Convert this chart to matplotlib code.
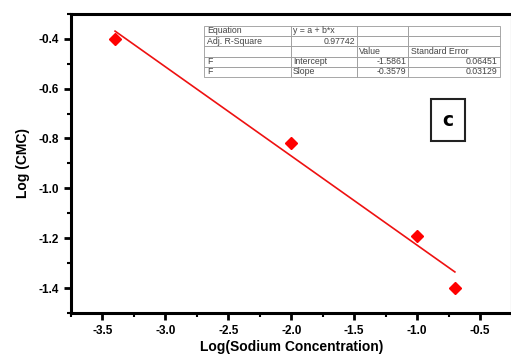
import matplotlib
matplotlib.use('Agg')
import matplotlib.pyplot as plt
import numpy as np
from matplotlib.ticker import MultipleLocator

plt.rcParams['font.family'] = ['Liberation Sans', 'DejaVu Sans']
plt.rcParams['axes.unicode_minus'] = False

# data
log_na = [-3.4, -2.0, -1.0, -0.7]
log_cmc = [-0.40, -0.82, -1.19, -1.40]

# fit results shown in the table
intercept = -1.5861
slope = -0.3579
table_rows = [
    ['Equation', 'y = a + b*x', '', ''],
    ['Adj. R-Square', '0.97742', '', ''],
    ['', '', 'Value', 'Standard Error'],
    ['F', 'Intercept', '-1.5861', '0.06451'],
    ['F', 'Slope', '-0.3579', '0.03129'],
]

fig = plt.figure(figsize=(5.11, 3.56), dpi=100)
ax = fig.add_axes([0.139, 0.121, 0.862, 0.840])

ax.plot(log_na, log_cmc, 'D', color='#ff0000', markersize=6.5, zorder=3)
xfit = np.array([min(log_na), max(log_na)])
ax.plot(xfit, intercept + slope * xfit, color='#ee1111', lw=1.2, zorder=2)

ax.set_xlim(-3.75, -0.25)
ax.set_ylim(-1.5, -0.3)
ax.xaxis.set_major_locator(MultipleLocator(0.5))
ax.xaxis.set_minor_locator(MultipleLocator(0.25))
ax.yaxis.set_major_locator(MultipleLocator(0.2))
ax.yaxis.set_minor_locator(MultipleLocator(0.1))
ax.tick_params(which='major', direction='out', length=5, width=2, labelsize=8.5)
ax.tick_params(which='minor', direction='out', length=3, width=1.5)
for lab in ax.get_xticklabels() + ax.get_yticklabels():
    lab.set_fontweight('bold')
for s in ax.spines.values():
    s.set_linewidth(2.2)

ax.set_xlabel('Log(Sodium Concentration)', fontsize=10, fontweight='bold', labelpad=2)
ax.set_ylabel('Log (CMC)', fontsize=10, fontweight='bold', labelpad=6)

tab = ax.table(cellText=table_rows, cellLoc='left',
               colWidths=[86, 66, 51, 92],
               bbox=[0.303, 0.789, 0.672, 0.171])
tab.auto_set_font_size(False)
tab.set_fontsize(6.3)
for (r, c), cell in tab.get_celld().items():
    cell.set_edgecolor('#999999')
    cell.set_linewidth(0.6)
    cell.PAD = 0.03
    cell.get_text().set_color('#444444')
    if (r == 1 and c == 1) or (r >= 3 and c >= 2):
        cell.get_text().set_ha('right')
        cell._loc = 'right'

ax.text(0.856, 0.645, 'c', transform=ax.transAxes, ha='center', va='center',
        fontsize=13.5, fontweight='heavy', family=['DejaVu Sans'],
        bbox=dict(boxstyle='square,pad=0.6', fc='white', ec='#222222', lw=1.5))

fig.savefig('out.png', dpi=100)
